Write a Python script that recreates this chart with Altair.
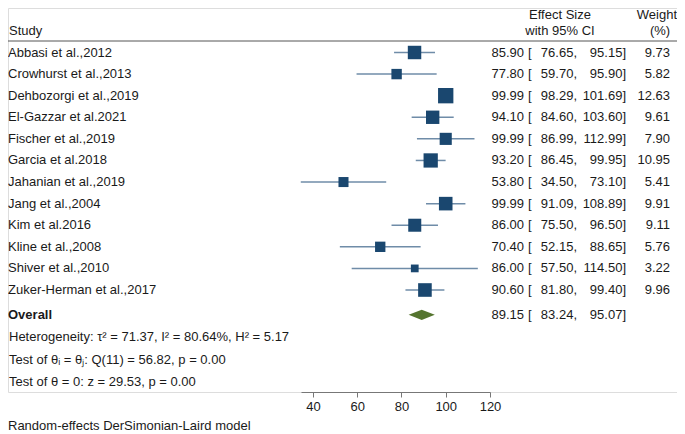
import altair as alt
import pandas as pd

studies = ["Abbasi et al.,2012", "Crowhurst et al.,2013", "Dehbozorgi et al.,2019",
           "El-Gazzar et al.2021", "Fischer et al.,2019", "Garcia et al.2018",
           "Jahanian et al.,2019", "Jang et al.,2004", "Kim et al.2016",
           "Kline et al.,2008", "Shiver et al.,2010", "Zuker-Herman et al.,2017"]
effect = [85.90, 77.80, 99.99, 94.10, 99.99, 93.20, 53.80, 99.99, 86.00, 70.40, 86.00, 90.60]
ci_low = [76.65, 59.70, 98.29, 84.60, 86.99, 86.45, 34.50, 91.09, 75.50, 52.15, 57.50, 81.80]
ci_high = [95.15, 95.90, 101.69, 103.60, 112.99, 99.95, 73.10, 108.89, 96.50, 88.65, 114.50, 99.40]
weights = [9.73, 5.82, 12.63, 9.61, 7.90, 10.95, 5.41, 9.91, 9.11, 5.76, 3.22, 9.96]

overall_label = "Overall"
overall_effect = 89.15
overall_low = 83.24
overall_high = 95.07

x_ticks = [40, 60, 80, 100, 120]
x_domain = [34.6, 120]

notes = ["Heterogeneity: \u03c4\u00b2 = 71.37, I\u00b2 = 80.64%, H\u00b2 = 5.17",
         "Test of \u03b8\u1d62 = \u03b8\u2c7c: Q(11) = 56.82, p = 0.00",
         "Test of \u03b8 = 0: z = 29.53, p = 0.00"]
footnote = "Random-effects DerSimonian-Laird model"

# ---- layout / style constants ----
FONT = "Liberation Sans"
FS = 13
TXT = "#1a1a1a"
NAVY = "#1a476f"
CI_COL = "#6f8ca8"
GREEN = "#55752f"
OVERALL_ROW = 12.15
DIAMOND_HALF = 0.24

rows = list(range(len(studies)))
df = pd.DataFrame({
    "study": studies, "effect": effect, "lo": ci_low, "hi": ci_high,
    "weight": weights, "row": rows,
})
df["est_txt"] = [f"{v:.2f}" for v in effect]
df["lo_txt"] = [f"{v:.2f}," for v in ci_low]
df["hi_txt"] = [f"{v:.2f}]" for v in ci_high]
df["w_txt"] = [f"{v:.2f}" for v in weights]

ov = pd.DataFrame({
    "study": [overall_label], "row": [OVERALL_ROW],
    "est_txt": [f"{overall_effect:.2f}"], "lo_txt": [f"{overall_low:.2f},"],
    "hi_txt": [f"{overall_high:.2f}]"],
})
diamond = pd.DataFrame({
    "x": [overall_low, overall_effect, overall_high],
    "row": [OVERALL_ROW, OVERALL_ROW - DIAMOND_HALF, OVERALL_ROW],
    "row2": [OVERALL_ROW, OVERALL_ROW + DIAMOND_HALF, OVERALL_ROW],
})
table = pd.concat([df[["row", "est_txt", "lo_txt", "hi_txt"]],
                   ov[["row", "est_txt", "lo_txt", "hi_txt"]]], ignore_index=True)
notes_df = pd.DataFrame({"text": notes, "ypix": [329, 352, 374]})

xscale = alt.Scale(domain=x_domain, range=[293, 482], nice=False, zero=False)
xaxis = alt.Axis(values=x_ticks, title=None, grid=False, tickSize=5, labelPadding=3,
                 labelFlush=False, labelOverlap=False,
                 domainColor="#777777", tickColor="#777777", labelColor=TXT,
                 labelFont=FONT, labelFontSize=FS, domainWidth=1.2, tickWidth=1)
yscale = alt.Scale(domain=[0, 11], range=[44.5, 282], nice=False, zero=False)
Y = alt.Y("row:Q", scale=yscale, axis=None)

base = alt.Chart(df)

ci = base.mark_rule(color=CI_COL, strokeWidth=1.5).encode(
    x=alt.X("lo:Q", scale=xscale, axis=xaxis), x2="hi:Q", y=Y)

squares = base.mark_square(color=NAVY, opacity=1, filled=True).encode(
    x=alt.X("effect:Q", scale=xscale, axis=xaxis), y=Y,
    size=alt.Size("weight:Q", scale=alt.Scale(domain=[0, max(weights)], range=[0, 235], zero=True),
                  legend=None))

dia = alt.Chart(diamond).mark_area(color=GREEN, orient="vertical", opacity=1).encode(
    x=alt.X("x:Q", scale=xscale, axis=xaxis), y=Y, y2="row2:Q")

def txt(data, field, xpix, align, **kw):
    return alt.Chart(data).mark_text(align=align, baseline="middle", font=FONT,
                                     fontSize=FS, color=TXT, **kw).encode(
        x=alt.value(xpix), y=Y, text=f"{field}:N")

labels = txt(df, "study", 0, "left")
ov_label = txt(ov, "study", 0, "left", fontWeight="bold")
est_t = txt(table, "est_txt", 516, "right")
br_t = alt.Chart(table).mark_text(align="left", baseline="middle", font=FONT, fontSize=FS,
                                  color=TXT, text="[").encode(x=alt.value(520), y=Y)
lo_t = txt(table, "lo_txt", 569, "right")
hi_t = txt(table, "hi_txt", 618, "right")
w_t = txt(df, "w_txt", 662, "right")

def fixed(text, xpix, ypix, align="left"):
    return alt.Chart(pd.DataFrame({"t": [text]})).mark_text(
        align=align, baseline="middle", font=FONT, fontSize=FS, color=TXT).encode(
        x=alt.value(xpix), y=alt.value(ypix), text="t:N")

hdr = (fixed("Study", 1, 23) + fixed("Effect Size", 552, 7, "center")
       + fixed("with 95% CI", 552, 23, "center") + fixed("Weight", 669, 7, "right")
       + fixed("(%)", 652, 23, "center"))
hline = alt.Chart(pd.DataFrame({"a": [0]})).mark_rule(color="#555555", strokeWidth=1).encode(
    x=alt.value(0), x2=alt.value(669), y=alt.value(33))

notes_layer = alt.Chart(notes_df).mark_text(align="left", baseline="middle", font=FONT,
                                            fontSize=FS, color=TXT).encode(
    x=alt.value(1), y=alt.Y("ypix:Q", scale=None), text="text:N")
foot = fixed(footnote, 0, 418)

chart = alt.layer(
    hline, ci, squares, dia, labels, ov_label, est_t, br_t, lo_t, hi_t, w_t,
    hdr, notes_layer, foot
).properties(
    width=669, height=384,
    autosize=alt.AutoSizeParams(type="none"),
    padding={"left": 0, "top": 0, "right": 0, "bottom": 42},
).configure_view(stroke=None).configure(background="white")

chart.save("out.html", embed_options={"renderer": "svg", "actions": False})
